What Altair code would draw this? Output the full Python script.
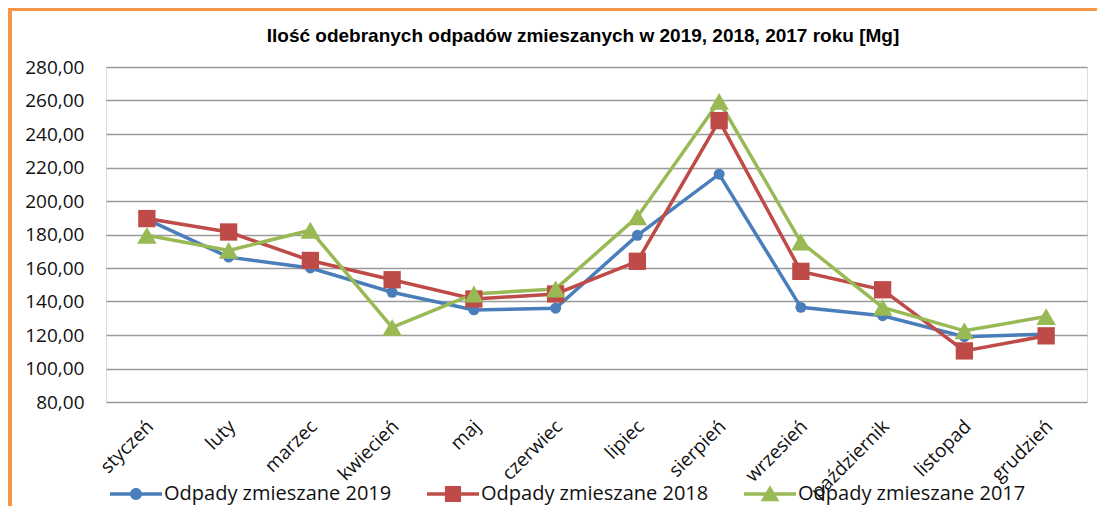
import altair as alt
import pandas as pd

months = ["styczeń", "luty", "marzec", "kwiecień", "maj", "czerwiec",
          "lipiec", "sierpień", "wrzesień", "październik", "listopad", "grudzień"]
series = ["Odpady zmieszane 2019", "Odpady zmieszane 2018", "Odpady zmieszane 2017"]
v2019 = [189, 166.5, 160, 145.5, 135, 136, 179.5, 216, 136.5, 131.5, 119, 120.5]
v2018 = [189.5, 181.5, 164.5, 153, 141.5, 144.5, 164, 248, 158, 147, 110.5, 119.5]
v2017 = [179.5, 170.5, 182.5, 124.5, 144.5, 147.5, 190.5, 259.5, 175.5, 136.5, 122.5, 131]
y_ticks = [80, 100, 120, 140, 160, 180, 200, 220, 240, 260, 280]
title_text = "Ilość odebranych odpadów zmieszanych w 2019, 2018, 2017 roku [Mg]"

colors = ["#4A7EBB", "#BE4B48", "#98B954"]
shapes = ["circle", "square", "triangle-up"]
sizes = [120, 300, 380]

# legend symbols: line with marker
legend_paths = [
    "M-1,-0.067H-0.2V0.067H-1Z M0.2,-0.067H1V0.067H0.2Z M-0.23,0A0.23,0.23 0 1,1 0.23,0A0.23,0.23 0 1,1 -0.23,0Z",
    "M-1,-0.067H-0.3V0.067H-1Z M0.3,-0.067H1V0.067H0.3Z M-0.31,-0.31H0.31V0.31H-0.31Z",
    "M-1,-0.067H-0.15V0.067H-1Z M0.15,-0.067H1V0.067H0.15Z M0,-0.34L0.36,0.28H-0.36Z",
]

rows = []
for name, vals in zip(series, [v2019, v2018, v2017]):
    for m, v in zip(months, vals):
        rows.append({"month": m, "value": v, "series": name})
df = pd.DataFrame(rows)

color_scale = alt.Scale(domain=series, range=colors)
FONT = "Open Sans"
TXT = "#111111"

x_enc = alt.X("month:N", sort=months,
              scale=alt.Scale(type="point", padding=0.5),
              axis=alt.Axis(title=None, labelAngle=-45, labelAlign="right",
                            labelBaseline="middle", domain=False, ticks=False,
                            grid=False, labelPadding=21, labelFont=FONT,
                            labelFontSize=19, labelColor=TXT, labelOffset=3))
y_enc = alt.Y("value:Q", scale=alt.Scale(domain=[80, 280], nice=False, zero=False),
              axis=alt.Axis(title=None, values=y_ticks,
                            labelExpr="replace(format(datum.value, '.2f'), '.', ',')",
                            grid=True, gridColor="#9a9a9a", gridWidth=1.6,
                            domain=False, ticks=False, labelPadding=22,
                            labelFont=FONT, labelFontSize=19, labelColor=TXT))

base = alt.Chart(df).encode(
    x=x_enc, y=y_enc,
    color=alt.Color("series:N", scale=color_scale, legend=None),
)

lines = base.mark_line(strokeWidth=3.5)

point_layers = []
for name, shp, sz in zip(series, shapes, sizes):
    point_layers.append(
        base.transform_filter(alt.datum.series == name)
        .mark_point(shape=shp, filled=True, size=sz, opacity=1)
    )

leg = alt.Legend(title=None, orient="none", legendX=4, legendY=401,
                 direction="horizontal", symbolSize=2704, symbolStrokeWidth=0,
                 labelFont=FONT, labelFontSize=20, labelColor=TXT,
                 labelOffset=2, columnPadding=35, padding=0, symbolOpacity=1,
                 labelLimit=0)

legend_layer = alt.Chart(df).transform_filter("false").mark_point(
    filled=True, opacity=1).encode(
    color=alt.Color("series:N", scale=color_scale, legend=leg),
    shape=alt.Shape("series:N", scale=alt.Scale(domain=series, range=legend_paths),
                    legend=leg),
)

one = alt.Data(values=[{}])
frame_top = alt.Chart(one).mark_rule(color="#F79646", strokeWidth=3).encode(
    x=alt.value(-98), x2=alt.value(1000), y=alt.value(-57.5))
frame_left = alt.Chart(one).mark_rule(color="#F79646", strokeWidth=4).encode(
    x=alt.value(-96), y=alt.value(-59), y2=alt.value(450))
title_mark = alt.Chart(one).mark_text(
    font="Liberation Sans", fontSize=19, fontWeight="bold", color="#000000",
    align="center", baseline="middle").encode(
    x=alt.value(477), y=alt.value(-31), text=alt.value(title_text))

chart = alt.layer(
    legend_layer, frame_top, frame_left, title_mark, lines, *point_layers
).properties(
    width=981, height=335,
    padding={"left": 98, "top": 59, "right": 10, "bottom": 104},
    autosize=alt.AutoSizeParams(type="none"),
).configure_view(stroke=None).configure(background="white")

chart.save("out.html", embed_options={"renderer": "svg", "actions": False})
